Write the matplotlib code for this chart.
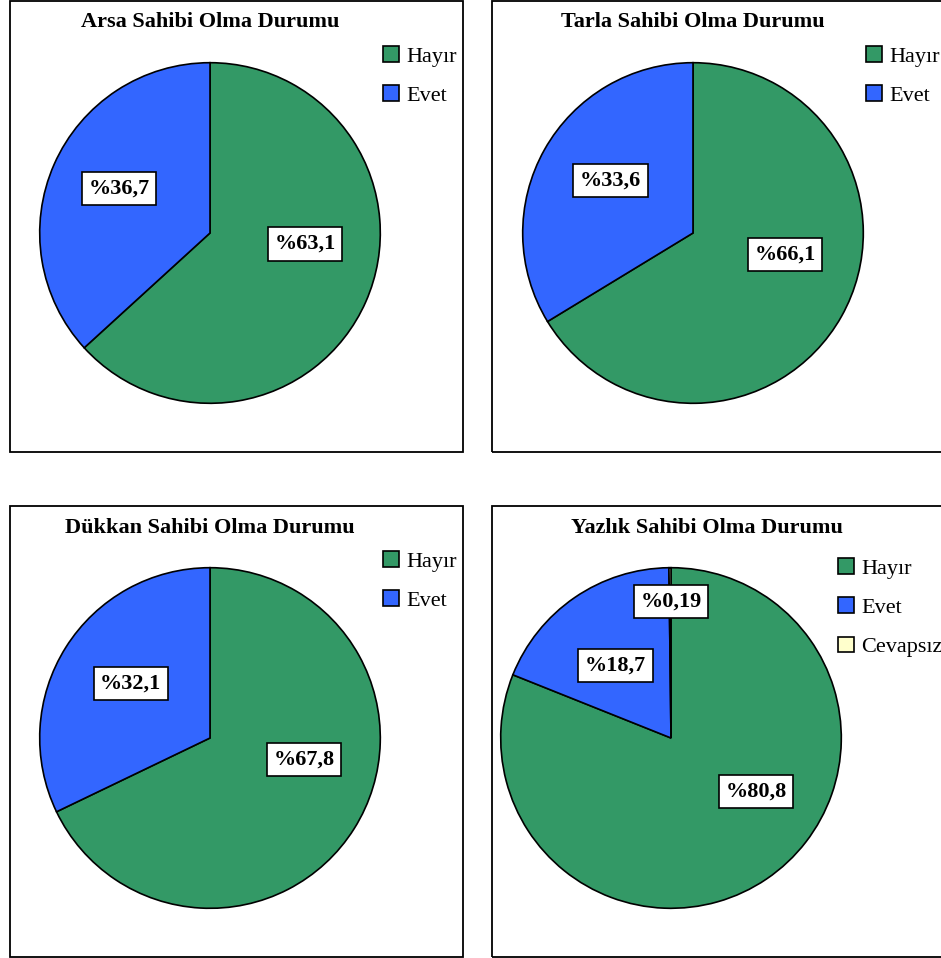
"""Four pie charts: ownership status (Arsa, Tarla, Dükkan, Yazlık)"""
import matplotlib
matplotlib.use('Agg')
import matplotlib.pyplot as plt
from matplotlib.patches import Rectangle, Patch

plt.rcParams['font.family'] = ['Liberation Serif', 'DejaVu Serif']

titles = ['Arsa Sahibi Olma Durumu', 'Tarla Sahibi Olma Durumu',
          'Dükkan Sahibi Olma Durumu', 'Yazlık Sahibi Olma Durumu']
categories = ['Hayır', 'Evet', 'Cevapsız']
arsa = [63.1, 36.7]
tarla = [66.1, 33.6]
dukkan = [67.8, 32.1]
yazlik = [80.8, 18.7, 0.19]
labels_arsa = ['%63,1', '%36,7']
labels_tarla = ['%66,1', '%33,6']
labels_dukkan = ['%67,8', '%32,1']
labels_yazlik = ['%80,8', '%18,7', '%0,19']

colors = ['#339966', '#3366FF', '#FFFFCC']

# label positions relative to pie centre (unit = radius)
label_pos = [
    [(0.558, -0.064), (-0.535, 0.262)],
    [(0.541, -0.128), (-0.483, 0.308)],
    [(0.552, -0.128), (-0.465, 0.320)],
    [(0.50, -0.314), (-0.326, 0.424), (0.0, 0.802)],
]

W, H = 941, 958
fig = plt.figure(figsize=(W / 100, H / 100), dpi=100)

# panel boxes (pixels: x0, y0, x1, y1)
panels = [(10, 1, 463, 452), (492, 1, 945, 452),
          (10, 506, 463, 957), (492, 506, 945, 957)]
# pie axes (pixels: left, top, size)
pie_boxes = [(38, 61, 344), (521, 61, 344), (38, 566, 344), (499, 566, 344)]
title_xy = [(210, 22), (693, 22), (210, 528), (707, 528)]
legend_xy = [(383, 46), (866, 46), (383, 551), (838, 558)]

data = [arsa, tarla, dukkan, yazlik]
labels = [labels_arsa, labels_tarla, labels_dukkan, labels_yazlik]

for i in range(4):
    x0, y0, x1, y1 = panels[i]
    fig.patches.append(Rectangle((x0 / W, 1 - y1 / H), (x1 - x0) / W, (y1 - y0) / H,
                                 transform=fig.transFigure, fill=False,
                                 edgecolor='black', linewidth=1.3))
    left, top, size = pie_boxes[i]
    ax = fig.add_axes([left / W, 1 - (top + size) / H, size / W, size / H])
    vals = data[i]
    ax.pie(vals, colors=colors[:len(vals)], startangle=90, counterclock=False,
           radius=1, wedgeprops=dict(edgecolor='black', linewidth=1.2))
    ax.set_xlim(-1.01, 1.01)
    ax.set_ylim(-1.01, 1.01)
    ax.set_aspect('equal')
    ax.axis('off')
    for lab, (lx, ly) in zip(labels[i], label_pos[i]):
        ax.text(lx, ly, lab, ha='center', va='center', fontsize=16, fontweight='bold',
                bbox=dict(boxstyle='square,pad=0.3', facecolor='white',
                          edgecolor='black', linewidth=1.2))
    tx, ty = title_xy[i]
    fig.text(tx / W, 1 - ty / H, titles[i], ha='center', va='center',
             fontsize=16, fontweight='bold')
    handles = [Patch(facecolor=colors[k], edgecolor='black', linewidth=1.2)
               for k in range(len(vals))]
    lx, ly = legend_xy[i]
    fig.legend(handles, categories[:len(vals)], loc='upper left',
               bbox_to_anchor=(lx / W, 1 - ly / H), frameon=False, fontsize=16,
               handlelength=0.7, handleheight=0.7, handletextpad=0.35,
               labelspacing=0.85, borderpad=0, borderaxespad=0)

fig.savefig('out.png', dpi=100)
